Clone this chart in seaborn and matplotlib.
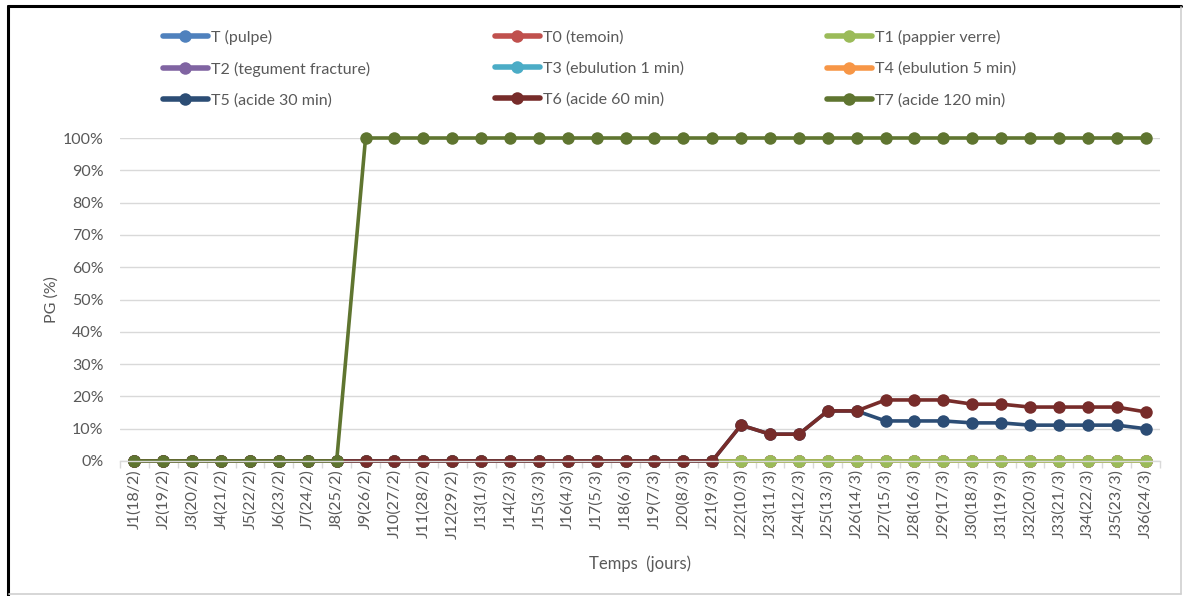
import matplotlib
matplotlib.use("Agg")
import matplotlib.pyplot as plt
from matplotlib.lines import Line2D
from matplotlib.ticker import PercentFormatter, FixedLocator
import numpy as np
import pandas as pd
import seaborn as sns

# Day labels (day number and date)
days = ["J1(18/2)", "J2(19/2)", "J3(20/2)", "J4(21/2)", "J5(22/2)", "J6(23/2)",
        "J7(24/2)", "J8(25/2)", "J9(26/2)", "J10(27/2)", "J11(28/2)", "J12(29/2)",
        "J13(1/3)", "J14(2/3)", "J15(3/3)", "J16(4/3)", "J17(5/3)", "J18(6/3)",
        "J19(7/3)", "J20(8/3)", "J21(9/3)", "J22(10/3)", "J23(11/3)", "J24(12/3)",
        "J25(13/3)", "J26(14/3)", "J27(15/3)", "J28(16/3)", "J29(17/3)", "J30(18/3)",
        "J31(19/3)", "J32(20/3)", "J33(21/3)", "J34(22/3)", "J35(23/3)", "J36(24/3)"]

# Germination rate per treatment (fraction)
t_pulpe = [0.0] * 36
t0_temoin = [0.0] * 36
t1_papier = [0.0] * 36
t2_tegument = [0.0] * 36
t3_ebul1 = [0.0] * 36
t4_ebul5 = [0.0] * 36
t5_acide30 = [0.0] * 21 + [0.111, 0.083, 0.083, 0.155, 0.155, 0.124, 0.124, 0.124,
                           0.118, 0.118, 0.111, 0.111, 0.111, 0.111, 0.100]
t6_acide60 = [0.0] * 21 + [0.111, 0.083, 0.083, 0.155, 0.155, 0.189, 0.189, 0.189,
                           0.176, 0.176, 0.167, 0.167, 0.167, 0.167, 0.152]
t7_acide120 = [0.0] * 8 + [1.0] * 28

names = ["T (pulpe)", "T0 (temoin)", "T1 (pappier verre)", "T2 (tegument fracture)",
         "T3 (ebulution 1 min)", "T4 (ebulution 5 min)", "T5 (acide 30 min)",
         "T6 (acide 60 min)", "T7 (acide 120 min)"]
series = [t_pulpe, t0_temoin, t1_papier, t2_tegument, t3_ebul1, t4_ebul5,
          t5_acide30, t6_acide60, t7_acide120]
colors = ["#4F81BD", "#C0504D", "#9BBB59", "#8064A2", "#4BACC6", "#F79646",
          "#2C4D75", "#772C2A", "#5F7530"]
palette = dict(zip(names, colors))

df = pd.DataFrame({
    "jour": np.tile(np.arange(len(days)), len(names)),
    "pg": np.concatenate(series),
    "traitement": np.repeat(names, len(days)),
})

sns.set_theme(style="white")
plt.rcParams["font.family"] = ["Lato", "DejaVu Sans"]
text_color = "#595959"
grid_color = "#D9D9D9"

W, H = 1183, 596
fig = plt.figure(figsize=(W / 100, H / 100), dpi=100)
ax = fig.add_axes([120 / W, 1 - 461 / H, 1040 / W, 323 / H])

# drawing order: lower series first so that later ones sit on top
draw_order = [names[i] for i in (0, 1, 3, 4, 5, 2, 6, 7, 8)]
sns.lineplot(data=df, x="jour", y="pg", hue="traitement", hue_order=draw_order,
             palette=palette, marker="o", markersize=9, markeredgewidth=0,
             linewidth=2.6, estimator=None, sort=False, legend=False, ax=ax)
for ln in ax.lines:
    ln.set_clip_on(False)

ax.set_xlim(-0.5, len(days) - 0.5)
ax.set_ylim(0, 1.0)
ax.yaxis.set_major_locator(FixedLocator(np.arange(0, 1.01, 0.1)))
ax.yaxis.set_major_formatter(PercentFormatter(1.0, decimals=0))
ax.grid(axis="y", color=grid_color, linewidth=1.0)
ax.set_axisbelow(True)
for s in ["top", "right", "left"]:
    ax.spines[s].set_visible(False)
ax.spines["bottom"].set_color(grid_color)
ax.spines["bottom"].set_linewidth(1.0)

ax.set_xticks(np.arange(len(days)))
ax.set_xticklabels(days, rotation=90, fontsize=11.5, color=text_color)
ax.xaxis.set_minor_locator(FixedLocator(np.arange(-0.5, len(days), 1.0)))
ax.tick_params(axis="x", which="major", length=0, pad=6)
ax.tick_params(axis="x", which="minor", length=5, color=grid_color, width=1.0, bottom=True)
ax.tick_params(axis="y", length=0, pad=12, labelsize=11.5, labelcolor=text_color)

ax.set_xlabel("Temps  (jours)", fontsize=12, color=text_color, labelpad=12)
ax.set_ylabel("PG (%)", fontsize=11.5, color=text_color, labelpad=3)

# legend: three columns placed at fixed horizontal positions, rows filled left to right
col_x = [163, 495, 827]
for c in range(3):
    members = [names[r * 3 + c] for r in range(3)]
    hs = [Line2D([], [], color=palette[n], linewidth=4, marker="o",
                 markersize=9, markeredgewidth=0) for n in members]
    leg = fig.legend(hs, members, loc="upper left",
                     bbox_to_anchor=(col_x[c] / W, 1 - 30 / H),
                     frameon=False, fontsize=11.5, handlelength=2.8,
                     handletextpad=0.2, labelspacing=1.05,
                     borderaxespad=0, borderpad=0)
    for t in leg.get_texts():
        t.set_color(text_color)

# outer frame
fig.add_artist(Line2D([8 / W, 1181 / W], [1 - 6 / H, 1 - 6 / H],
                      color="black", linewidth=2.2, transform=fig.transFigure))
fig.add_artist(Line2D([8 / W, 8 / W], [0, 1 - 6 / H],
                      color="black", linewidth=2.2, transform=fig.transFigure))
fig.add_artist(Line2D([1181 / W, 1181 / W], [2 / H, 1 - 7 / H],
                      color="#D0D0D0", linewidth=1.2, transform=fig.transFigure))
fig.add_artist(Line2D([9 / W, 1181 / W], [2 / H, 2 / H],
                      color="#D0D0D0", linewidth=1.2, transform=fig.transFigure))

fig.savefig("out.png", dpi=100, facecolor="white")
